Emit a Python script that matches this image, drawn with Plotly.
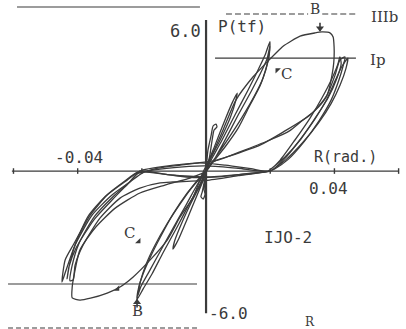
import plotly.graph_objects as go

# ---- hysteresis record, specimen IJO-2 : rotation R (rad.) vs load P (tf) ----
hook_pos_R = [0.0000, 0.0006, 0.0016, 0.0022, 0.0031, 0.0034, 0.0025, 0.0019, 0.0012, 0.0003]
hook_pos_P = [0.05, 0.90, 1.54, 1.93, 2.01, 1.89, 1.76, 1.33, 0.69, 0.10]

hook_neg_R = [0.0000, -0.0006, -0.0012, -0.0016, -0.0009, -0.0003, -0.0006, -0.0003, 0.0000]
hook_neg_P = [-0.05, -0.50, -0.90, -1.10, -1.20, -1.00, -0.80, -0.45, -0.05]

cyc01_R = [0.0003, 0.0028, 0.0059, 0.0081, 0.0097, 0.0093, 0.0075, 0.0044, 0.0012, -0.0003,
           -0.0030, -0.0060, -0.0085, -0.0103, -0.0098, -0.0078, -0.0048, -0.0015, 0.0003]
cyc01_P = [0.26, 1.11, 2.19, 2.91, 3.34, 3.04, 2.27, 1.33, 0.47, -0.20,
           -1.10, -2.10, -2.90, -3.35, -3.00, -2.30, -1.40, -0.50, 0.26]

cyc02a_R = [0.0003, 0.0019, 0.0050, 0.0090, 0.0131, 0.0162, 0.0184, 0.0199, 0.0197, 0.0187, 0.0168,
            0.0137, 0.0100, 0.0059, 0.0019, -0.0003, -0.0019, -0.0050, -0.0090, -0.0134, -0.0168,
            -0.0196, -0.0215, -0.0210, -0.0196, -0.0174, -0.0143, -0.0103, -0.0059, -0.0019, 0.0003]
cyc02a_P = [0.13, 0.56, 1.33, 2.40, 3.47, 4.33, 4.97, 5.55, 5.00, 4.41, 3.64,
            2.83, 1.84, 1.03, 0.34, -0.09, -0.56, -1.35, -2.40, -3.50, -4.40,
            -5.05, -5.50, -5.00, -4.40, -3.70, -2.85, -1.85, -0.95, -0.30, 0.13]

cyc02b_R = [0.0008, 0.0030, 0.0062, 0.0100, 0.0140, 0.0170, 0.0190, 0.0199, 0.0193, 0.0178, 0.0150,
            0.0112, 0.0070, 0.0028, 0.0000, -0.0028, -0.0062, -0.0103, -0.0143, -0.0177,
            -0.0203, -0.0213, -0.0205, -0.0187, -0.0160, -0.0121, -0.0078, -0.0030, 0.0008]
cyc02b_P = [0.13, 0.60, 1.40, 2.40, 3.40, 4.20, 4.80, 5.35, 4.70, 4.00, 3.20,
            2.30, 1.40, 0.55, 0.00, -0.60, -1.45, -2.45, -3.45, -4.30,
            -4.95, -5.35, -4.75, -4.00, -3.20, -2.25, -1.35, -0.45, 0.13]

big_R = [0.0003, 0.0012, 0.0053, 0.0093, 0.0146, 0.0187, 0.0218, 0.0240, 0.0293, 0.0340, 0.0361,
         0.0386, 0.0396, 0.0399, 0.0399, 0.0396, 0.0377, 0.0324, 0.0240, 0.0168, 0.0084, 0.0034,
         0.0000, -0.0019, -0.0040, -0.0081, -0.0121, -0.0174, -0.0227, -0.0268, -0.0308, -0.0360,
         -0.0393, -0.0417, -0.0417, -0.0414, -0.0393, -0.0346, -0.0283, -0.0206, -0.0128, -0.0050, 0.0000]
big_P = [0.13, 0.47, 1.76, 3.04, 4.03, 4.63, 5.06, 5.35, 5.78, 5.92, 5.96,
         5.92, 5.74, 5.30, 4.89, 4.41, 3.26, 2.40, 1.67, 1.11, 0.69, 0.47,
         0.20, -0.39, -1.11, -1.97, -2.96, -3.81, -4.54, -4.97, -5.23, -5.45,
         -5.53, -5.44, -4.97, -4.67, -3.39, -2.44, -1.59, -0.94, -0.60, -0.30, -0.04]

cyc04a_R = [0.0193, 0.0231, 0.0277, 0.0324, 0.0361, 0.0393, 0.0411, 0.0417, 0.0421, 0.0408, 0.0380,
            0.0340, 0.0293, 0.0246, 0.0206, 0.0193, 0.0120, 0.0040, -0.0040, -0.0120, -0.0206,
            -0.0246, -0.0308, -0.0361, -0.0414, -0.0439, -0.0449, -0.0436, -0.0408, -0.0355,
            -0.0293, -0.0237, -0.0199, -0.0150, -0.0080, -0.0019, 0.0060, 0.0140, 0.0193]
cyc04a_P = [0.00, 0.47, 1.33, 2.27, 3.13, 3.99, 4.59, 4.89, 4.60, 3.99, 3.13,
            2.27, 1.33, 0.60, 0.13, 0.00, -0.12, -0.25, -0.28, -0.15, 0.00,
            -0.39, -1.03, -1.89, -3.17, -3.81, -4.76, -4.24, -3.17, -1.89,
            -1.03, -0.47, -0.09, 0.12, 0.25, 0.35, 0.25, 0.10, 0.00]

cyc04b_R = [0.0037, 0.0120, 0.0199, 0.0260, 0.0302, 0.0340, 0.0374, 0.0402, 0.0417, 0.0433, 0.0427,
            0.0414, 0.0390, 0.0352, 0.0305, 0.0256, 0.0215, 0.0199, 0.0100, 0.0000, -0.0103, -0.0143,
            -0.0206, -0.0268, -0.0330, -0.0383, -0.0408, -0.0414, -0.0424, -0.0418, -0.0396, -0.0348,
            -0.0290, -0.0233, -0.0206, -0.0100, 0.0037]
cyc04b_P = [0.47, 0.90, 1.33, 1.72, 2.19, 2.60, 3.17, 4.11, 4.76, 4.89, 4.50,
            3.90, 3.05, 2.15, 1.25, 0.50, 0.10, 0.00, -0.20, -0.40, -0.47, -0.51,
            -0.73, -1.16, -2.01, -3.17, -4.03, -4.67, -4.70, -4.10, -3.10, -1.95,
            -1.10, -0.40, 0.00, 0.25, 0.47]

cyc04c_R = [0.0199, 0.0243, 0.0293, 0.0340, 0.0377, 0.0405, 0.0424, 0.0442, 0.0436, 0.0418, 0.0390,
            0.0350, 0.0300, 0.0250, 0.0212, 0.0199, 0.0100, 0.0000, -0.0100, -0.0212, -0.0255,
            -0.0315, -0.0368, -0.0405, -0.0424, -0.0433, -0.0427, -0.0405, -0.0350, -0.0290,
            -0.0240, -0.0212, -0.0100, 0.0000, 0.0100, 0.0199]
cyc04c_P = [0.00, 0.50, 1.35, 2.25, 3.10, 3.95, 4.50, 4.84, 4.40, 3.70, 2.90,
            2.05, 1.20, 0.50, 0.10, 0.00, -0.15, -0.25, -0.18, -0.05, -0.45,
            -1.10, -1.95, -3.05, -3.90, -4.62, -4.10, -3.30, -2.10, -1.20,
            -0.50, -0.10, 0.15, 0.22, 0.12, 0.00]

# horizontal axis and reference levels
r_ticks = [-0.06, -0.04, -0.02, 0.02, 0.04, 0.06]
r_axis = [-0.0605, 0.0600]
p_axis = [6.47, -6.09]
p_ip = 4.84
p_iiib = 6.73
p_top = 7.03
ip_pos_span = [0.0028, 0.0467]
ip_neg_span = [-0.0617, -0.0028]
iiib_pos_spans = [[0.0062, 0.0318], [0.0362, 0.0467]]
iiib_neg_span = [-0.0617, -0.0028]
top_span = [-0.0589, -0.0019]

ink = "#3b3b3b"
txt = "#3a3a3a"

fig = go.Figure()

branches = [
    (hook_pos_R, hook_pos_P), (hook_neg_R, hook_neg_P), (cyc01_R, cyc01_P),
    (cyc02a_R, cyc02a_P), (cyc02b_R, cyc02b_P), (big_R, big_P),
    (cyc04a_R, cyc04a_P), (cyc04b_R, cyc04b_P), (cyc04c_R, cyc04c_P),
]
for r, p in branches:
    fig.add_trace(go.Scatter(x=r, y=p, mode="lines",
                             line=dict(color=ink, width=1.3, shape="spline", smoothing=0.6),
                             hoverinfo="skip", showlegend=False))

def hline(x0, x1, y, width=1.2, dash="solid"):
    fig.add_trace(go.Scatter(x=[x0, x1], y=[y, y], mode="lines",
                             line=dict(color=ink, width=width, dash=dash),
                             hoverinfo="skip", showlegend=False))

def vline(x, y0, y1, width=1.2):
    fig.add_trace(go.Scatter(x=[x, x], y=[y0, y1], mode="lines",
                             line=dict(color=ink, width=width),
                             hoverinfo="skip", showlegend=False))

# axes
hline(r_axis[0], r_axis[1], 0.0, width=1.3)
vline(0.0, p_axis[0], p_axis[1], width=2.2)
for t in r_ticks:
    vline(t, -0.12, 0.12, width=1.4)

# reference levels
hline(top_span[0], top_span[1], p_top, width=1.2)
hline(ip_pos_span[0], ip_pos_span[1], p_ip, width=1.1)
hline(ip_neg_span[0], ip_neg_span[1], -p_ip, width=1.1)
for s in iiib_pos_spans:
    hline(s[0], s[1], p_iiib, width=1.1, dash="6px,3px")
hline(iiib_neg_span[0], iiib_neg_span[1], -p_iiib, width=1.1, dash="5px,3px")

# event markers B and C
fig.add_trace(go.Scatter(x=[0.0355, -0.0215], y=[6.12, -5.62], mode="markers",
                         marker=dict(symbol=["triangle-down", "triangle-up"], size=7, color=ink),
                         hoverinfo="skip", showlegend=False))
vline(0.0355, 6.0, 6.35, width=1.6)
vline(-0.0215, -5.5, -5.85, width=1.6)
fig.add_trace(go.Scatter(x=[0.0222, -0.0210, -0.0276], y=[4.33, -3.02, -5.05], mode="markers",
                         marker=dict(symbol=["triangle-nw", "triangle-se", "triangle-se"], size=6, color=ink),
                         hoverinfo="skip", showlegend=False))

mono = "DejaVu Sans Mono"
serif = "DejaVu Serif"
labels = [
    ("6.0", -0.0010, 6.00, "right", mono, 17),
    ("P(tf)", 0.0030, 6.21, "left", mono, 16),
    ("-0.04", -0.0396, 0.60, "center", mono, 16),
    ("R(rad.)", 0.0330, 0.60, "left", mono, 15),
    ("0.04", 0.0383, -0.73, "center", mono, 16),
    ("IJO-2", 0.0255, -2.83, "center", mono, 16),
    ("-6.0", 0.0004, -6.09, "left", mono, 16),
    ("IIIb", 0.0508, 6.62, "left", serif, 15),
    ("Ip", 0.0505, 4.76, "left", serif, 15),
    ("B", 0.0340, 6.93, "center", serif, 14),
    ("C", 0.0252, 4.14, "center", serif, 15),
    ("C", -0.0237, -2.66, "center", serif, 15),
    ("B", -0.0215, -5.98, "center", serif, 15),
    ("R", 0.0325, -6.45, "center", serif, 12),
]
for text, x, y, anchor, fam, size in labels:
    fig.add_annotation(x=x, y=y, text=text, showarrow=False, xanchor=anchor, yanchor="middle",
                       font=dict(family=fam, size=size, color=txt))

fig.update_layout(
    width=406, height=329,
    margin=dict(l=0, r=0, t=0, b=0),
    paper_bgcolor="white", plot_bgcolor="white",
    xaxis=dict(range=[-0.0642, 0.0623], visible=False, fixedrange=True),
    yaxis=dict(range=[-6.77, 7.33], visible=False, fixedrange=True),
    showlegend=False,
)

fig.write_html("out.html")
